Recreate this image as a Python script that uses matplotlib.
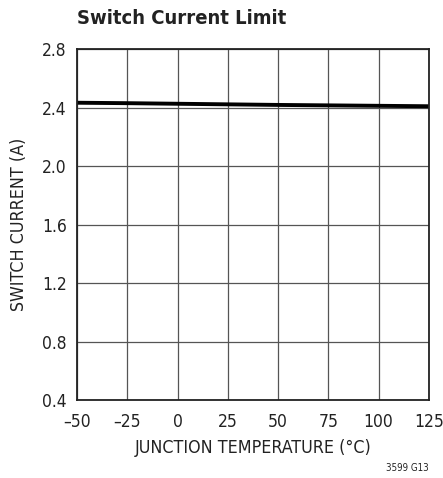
import matplotlib.pyplot as plt
from matplotlib import font_manager

# Données
temperature = [-50, -25, 0, 25, 50, 75, 100, 125]
courant = [2.434, 2.431, 2.427, 2.423, 2.419, 2.416, 2.413, 2.410]

x_ticks = [-50, -25, 0, 25, 50, 75, 100, 125]
x_labels = ['–50', '–25', '0', '25', '50', '75', '100', '125']
y_ticks = [0.4, 0.8, 1.2, 1.6, 2.0, 2.4, 2.8]

# Police étroite si disponible
etroites = [f for f in font_manager.fontManager.ttflist
            if f.name == 'DejaVu Sans' and f.stretch == 'condensed']
if etroites:
    plt.rcParams['font.family'] = ['DejaVu Sans']
    plt.rcParams['font.stretch'] = 'condensed'
else:
    plt.rcParams['font.family'] = ['Liberation Sans', 'DejaVu Sans']

fig = plt.figure(figsize=(4.43, 4.78), dpi=100)
ax = fig.add_axes([0.174, 0.163, 0.794, 0.734])

ax.plot(temperature, courant, color='black', linewidth=2.8, solid_capstyle='butt')

ax.set_xlim(-50, 125)
ax.set_ylim(0.4, 2.8)
ax.set_xticks(x_ticks)
ax.set_xticklabels(x_labels)
ax.set_yticks(y_ticks)
ax.set_yticklabels([f'{v:.1f}' for v in y_ticks])
ax.tick_params(length=0, labelsize=12.5, colors='#222222')
ax.tick_params(axis='x', pad=9)
ax.tick_params(axis='y', pad=7.5)
ax.grid(True, color='#555555', linewidth=0.9)
for s in ax.spines.values():
    s.set_linewidth(1.3)
    s.set_color('#222222')

ax.set_xlabel('JUNCTION TEMPERATURE (°C)', fontsize=12.8, color='#222222', labelpad=6)
ax.set_ylabel('SWITCH CURRENT (A)', fontsize=12.8, color='#222222', labelpad=10)

fig.text(0.174, 0.962, 'Switch Current Limit', fontsize=14.5, fontweight='bold',
         ha='left', va='center', color='#222222')
fig.text(0.968, 0.021, '3599 G13', fontsize=7, ha='right', va='center', color='#222222')

fig.savefig('out.png', dpi=100)
